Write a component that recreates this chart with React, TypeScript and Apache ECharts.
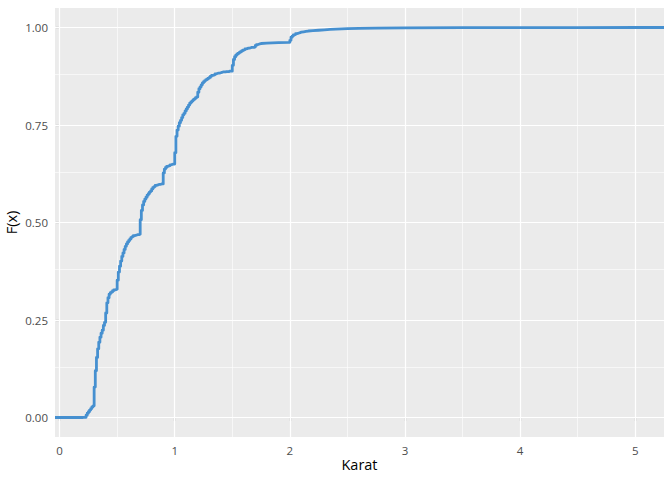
import React, { useEffect, useRef } from "react";
import * as echarts from "echarts";

// ECDF of diamond carat values
const carat: number[] = [
  0.2, 0.21, 0.22, 0.23, 0.24, 0.25, 0.26, 0.27, 0.28, 0.29,
  0.3, 0.31, 0.32, 0.33, 0.34, 0.35, 0.36, 0.37, 0.38, 0.39,
  0.4, 0.41, 0.42, 0.43, 0.44, 0.45, 0.46, 0.47, 0.48, 0.49,
  0.5, 0.51, 0.52, 0.53, 0.54, 0.55, 0.56, 0.57, 0.58, 0.59,
  0.6, 0.61, 0.62, 0.63, 0.64, 0.65, 0.66, 0.67, 0.68, 0.69,
  0.7, 0.71, 0.72, 0.73, 0.74, 0.75, 0.76, 0.77, 0.78, 0.79,
  0.8, 0.81, 0.82, 0.83, 0.84, 0.85, 0.86, 0.87, 0.88, 0.89,
  0.9, 0.91, 0.92, 0.93, 0.94, 0.95, 0.96, 0.97, 0.98, 0.99,
  1.0, 1.01, 1.02, 1.03, 1.04, 1.05, 1.06, 1.07, 1.08, 1.09,
  1.1, 1.11, 1.12, 1.13, 1.14, 1.15, 1.16, 1.17, 1.18, 1.19,
  1.2, 1.21, 1.22, 1.23, 1.24, 1.25, 1.26, 1.27, 1.28, 1.29,
  1.3, 1.31, 1.32, 1.33, 1.34, 1.35, 1.36, 1.37, 1.38, 1.39,
  1.4, 1.41, 1.42, 1.43, 1.44, 1.45, 1.46, 1.47, 1.48, 1.49,
  1.5, 1.51, 1.52, 1.53, 1.54, 1.55, 1.56, 1.57, 1.58, 1.59,
  1.6, 1.61, 1.62, 1.63, 1.64, 1.65, 1.66, 1.67, 1.68, 1.69,
  1.7, 1.71, 1.72, 1.73, 1.74, 1.75, 1.8, 1.9, 1.99,
  2.0, 2.01, 2.02, 2.03, 2.04, 2.05, 2.06, 2.07, 2.08, 2.09,
  2.1, 2.12, 2.14, 2.16, 2.2, 2.25, 2.3, 2.35, 2.4, 2.5,
  2.6, 2.75, 3.0, 3.5, 4.0, 4.5, 5.01,
];

const ecdf: number[] = [
  0.0002, 0.0004, 0.0005, 0.006, 0.011, 0.015, 0.019, 0.023, 0.027, 0.03,
  0.078, 0.12, 0.154, 0.176, 0.193, 0.206, 0.216, 0.224, 0.236, 0.244,
  0.268, 0.294, 0.307, 0.316, 0.32, 0.322, 0.325, 0.327, 0.328, 0.329,
  0.352, 0.373, 0.388, 0.401, 0.413, 0.422, 0.431, 0.439, 0.445, 0.45,
  0.454, 0.458, 0.462, 0.464, 0.466, 0.467, 0.468, 0.469, 0.469, 0.47,
  0.507, 0.531, 0.545, 0.554, 0.56, 0.565, 0.57, 0.574, 0.578, 0.581,
  0.586, 0.59, 0.592, 0.595, 0.596, 0.597, 0.598, 0.598, 0.599, 0.599,
  0.627, 0.637, 0.641, 0.644, 0.645, 0.646, 0.648, 0.649, 0.65, 0.65,
  0.679, 0.721, 0.737, 0.747, 0.756, 0.762, 0.769, 0.776, 0.78, 0.786,
  0.791, 0.796, 0.801, 0.806, 0.809, 0.812, 0.815, 0.817, 0.82, 0.822,
  0.834, 0.843, 0.848, 0.853, 0.858, 0.861, 0.864, 0.866, 0.868, 0.87,
  0.872, 0.875, 0.877, 0.878, 0.879, 0.881, 0.882, 0.883, 0.883, 0.884,
  0.885, 0.886, 0.886, 0.886, 0.887, 0.887, 0.887, 0.888, 0.888, 0.888,
  0.903, 0.918, 0.925, 0.929, 0.932, 0.934, 0.936, 0.938, 0.94, 0.942,
  0.943, 0.945, 0.946, 0.947, 0.947, 0.948, 0.949, 0.949, 0.949, 0.95,
  0.954, 0.956, 0.957, 0.958, 0.959, 0.96, 0.961, 0.962, 0.962,
  0.967, 0.975, 0.978, 0.981, 0.982, 0.984, 0.985, 0.986, 0.987, 0.988,
  0.989, 0.99, 0.991, 0.992, 0.993, 0.994, 0.995, 0.996, 0.997, 0.998,
  0.9985, 0.999, 0.9995, 0.9998, 0.9999, 0.99998, 1.0,
];

const xTicks: number[] = [0, 1, 2, 3, 4, 5];
const xMinor: number[] = [0.5, 1.5, 2.5, 3.5, 4.5];
const yTicks: number[] = [0, 0.25, 0.5, 0.75, 1];
const yMinor: number[] = [0.125, 0.375, 0.625, 0.875];

const X_MIN = -0.04;
const X_MAX = 5.25;
const Y_MIN = -0.05;
const Y_MAX = 1.05;

const FONT = "'Open Sans', 'Noto Sans', sans-serif";

export default function App() {
  const ref = useRef<HTMLDivElement>(null);

  useEffect(() => {
    if (!ref.current) return;
    const chart = echarts.init(ref.current, undefined, { renderer: "svg" });

    const lineData: [number, number][] = [[X_MIN, 0]];
    carat.forEach((c, i) => lineData.push([c, ecdf[i]]));
    lineData.push([X_MAX, 1]);

    const major = { color: "#FFFFFF", width: 1.2, type: "solid" as const };
    const minor = { color: "#FFFFFF", width: 0.6, type: "solid" as const };

    const gridLines = [
      ...xMinor.map((v) => ({ xAxis: v, lineStyle: minor })),
      ...yMinor.map((v) => ({ yAxis: v, lineStyle: minor })),
      ...xTicks.map((v) => ({ xAxis: v, lineStyle: major })),
      ...yTicks.map((v) => ({ yAxis: v, lineStyle: major })),
    ];

    chart.setOption({
      animation: false,
      backgroundColor: "#FFFFFF",
      textStyle: { fontFamily: FONT },
      grid: {
        left: 55,
        right: 8,
        top: 8,
        bottom: 43,
        containLabel: false,
        outerBoundsMode: "none",
        show: true,
        backgroundColor: "#EBEBEB",
        borderWidth: 0,
      },
      xAxis: {
        type: "value",
        min: X_MIN,
        max: X_MAX,
        name: "Karat",
        nameLocation: "middle",
        nameGap: 20,
        nameMoveOverlap: false,
        nameTextStyle: { color: "#000000", fontSize: 14.5, fontFamily: FONT },
        axisLine: { show: false },
        axisTick: {
          show: true,
          length: 4,
          customValues: xTicks,
          lineStyle: { color: "#333333", width: 1.1 },
        },
        axisLabel: {
          customValues: xTicks,
          margin: 7,
          color: "#4D4D4D",
          fontSize: 11.5,
          fontFamily: FONT,
          formatter: (v: number) => String(v),
        },
        splitLine: { show: false },
      },
      yAxis: {
        type: "value",
        min: Y_MIN,
        max: Y_MAX,
        name: "F(x)",
        nameLocation: "middle",
        nameGap: 36,
        nameMoveOverlap: false,
        nameTextStyle: { color: "#000000", fontSize: 14.5, fontFamily: FONT },
        axisLine: { show: false },
        axisTick: {
          show: true,
          length: 4,
          customValues: yTicks,
          lineStyle: { color: "#333333", width: 1.1 },
        },
        axisLabel: {
          customValues: yTicks,
          margin: 7,
          color: "#4D4D4D",
          fontSize: 11.5,
          fontFamily: FONT,
          formatter: (v: number) => v.toFixed(2),
        },
        splitLine: { show: false },
      },
      series: [
        {
          type: "line",
          data: [],
          z: 1,
          silent: true,
          markLine: {
            silent: true,
            z: 1,
            symbol: ["none", "none"],
            label: { show: false },
            emphasis: { disabled: true },
            animation: false,
            data: gridLines,
          },
        },
        {
          type: "line",
          data: lineData,
          step: "end",
          z: 10,
          showSymbol: false,
          symbol: "none",
          silent: true,
          lineStyle: { color: "#4690D0", width: 2.8, join: "round" },
        },
      ],
    });

    return () => chart.dispose();
  }, []);

  return (
    <div
      ref={ref}
      style={{ position: "absolute", left: 0, top: 0, width: 672, height: 480 }}
    />
  );
}
